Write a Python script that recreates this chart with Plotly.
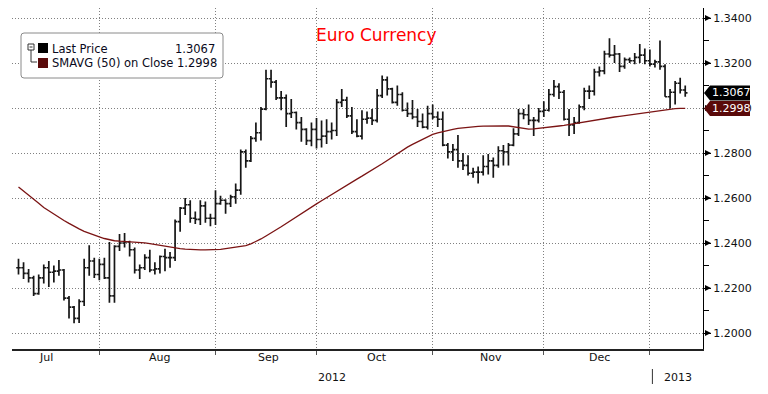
import plotly.graph_objects as go
import pandas as pd

# ---------------- data ----------------
dates = pd.bdate_range("2012-07-09", "2013-01-09")  # daily (weekday) bars

open_ = [1.2290,1.2290,1.2265,1.2245,1.2175,1.2245,1.2290,1.2270,1.2275,1.2280,
         1.2155,1.2115,1.2065,1.2140,1.2290,1.2320,1.2260,1.2305,1.2245,1.2165,
         1.2385,1.2400,1.2405,1.2370,1.2280,1.2290,1.2335,1.2280,1.2285,1.2340,
         1.2335,1.2335,1.2495,1.2555,1.2570,1.2510,1.2505,1.2565,1.2510,1.2510,
         1.2575,1.2590,1.2575,1.2605,1.2635,1.2805,1.2765,1.2865,1.2890,1.2995,
         1.3130,1.3115,1.3045,1.3045,1.2975,1.2980,1.2935,1.2905,1.2855,1.2905,
         1.2860,1.2875,1.2895,1.2900,1.3025,1.3035,1.2965,1.2895,1.2875,1.2950,
         1.2955,1.2945,1.3055,1.3125,1.3085,1.3025,1.3060,1.2990,1.2975,1.2960,
         1.2940,1.2915,1.2975,1.2960,1.2950,1.2835,1.2805,1.2815,1.2765,1.2745,
         1.2710,1.2715,1.2715,1.2740,1.2765,1.2745,1.2810,1.2805,1.2835,1.2885,
         1.2975,1.2970,1.2945,1.2945,1.2985,1.2990,1.3060,1.3095,1.3070,1.2950,
         1.2925,1.2935,1.3005,1.3075,1.3075,1.3160,1.3165,1.3240,1.3235,1.3240,
         1.3185,1.3215,1.3210,1.3225,1.3235,1.3210,1.3195,1.3205,1.3185,1.3050,
         1.3070,1.3110,1.3080]
high = [1.2330,1.2315,1.2285,1.2255,1.2260,1.2305,1.2320,1.2300,1.2325,1.2285,
        1.2165,1.2120,1.2150,1.2330,1.2390,1.2335,1.2330,1.2335,1.2405,1.2390,
        1.2440,1.2445,1.2410,1.2380,1.2305,1.2350,1.2370,1.2315,1.2345,1.2375,
        1.2360,1.2505,1.2560,1.2600,1.2590,1.2540,1.2590,1.2585,1.2530,1.2635,
        1.2610,1.2595,1.2615,1.2665,1.2815,1.2815,1.2875,1.2935,1.3005,1.3170,
        1.3170,1.3125,1.3075,1.3060,1.3040,1.2985,1.2960,1.2910,1.2935,1.2955,
        1.2945,1.2950,1.2935,1.3040,1.3085,1.3050,1.3005,1.2950,1.2990,1.2985,
        1.2995,1.3085,1.3145,1.3140,1.3090,1.3100,1.3070,1.3025,1.3035,1.2995,
        1.2975,1.3010,1.3015,1.2985,1.2985,1.2845,1.2840,1.2880,1.2800,1.2790,
        1.2735,1.2740,1.2790,1.2795,1.2780,1.2830,1.2835,1.2845,1.2910,1.2995,
        1.2995,1.3015,1.2960,1.3000,1.3030,1.3085,1.3125,1.3110,1.3080,1.2995,
        1.2960,1.3015,1.3090,1.3100,1.3175,1.3185,1.3255,1.3310,1.3280,1.3245,
        1.3225,1.3225,1.3245,1.3285,1.3265,1.3260,1.3215,1.3300,1.3195,1.3085,
        1.3120,1.3135,1.3100]
low = [1.2260,1.2240,1.2225,1.2165,1.2170,1.2220,1.2205,1.2225,1.2255,1.2145,
       1.2065,1.2043,1.2045,1.2120,1.2255,1.2245,1.2235,1.2240,1.2135,1.2135,
       1.2365,1.2380,1.2340,1.2265,1.2240,1.2280,1.2270,1.2260,1.2265,1.2275,
       1.2290,1.2320,1.2450,1.2525,1.2490,1.2485,1.2480,1.2490,1.2475,1.2480,
       1.2570,1.2530,1.2560,1.2575,1.2615,1.2735,1.2760,1.2850,1.2855,1.2990,
       1.3090,1.3035,1.2990,1.2915,1.2955,1.2905,1.2850,1.2835,1.2830,1.2820,
       1.2825,1.2840,1.2860,1.2875,1.3005,1.2955,1.2885,1.2870,1.2860,1.2930,
       1.2925,1.2935,1.3045,1.3055,1.3020,1.3010,1.2985,1.2960,1.2950,1.2915,
       1.2910,1.2905,1.2950,1.2915,1.2830,1.2775,1.2765,1.2735,1.2725,1.2700,
       1.2690,1.2665,1.2700,1.2705,1.2690,1.2735,1.2745,1.2745,1.2830,1.2875,
       1.2950,1.2925,1.2875,1.2935,1.2960,1.2985,1.3050,1.3040,1.2945,1.2875,
       1.2885,1.2930,1.2990,1.3040,1.3055,1.3140,1.3150,1.3225,1.3200,1.3160,
       1.3175,1.3200,1.3195,1.3200,1.3195,1.3185,1.3180,1.3170,1.3050,1.2998,
       1.3015,1.3065,1.3050]
close = [1.2290,1.2265,1.2245,1.2175,1.2245,1.2290,1.2270,1.2275,1.2280,1.2155,
         1.2115,1.2065,1.2140,1.2290,1.2320,1.2260,1.2305,1.2245,1.2165,1.2385,
         1.2400,1.2405,1.2370,1.2280,1.2290,1.2335,1.2280,1.2285,1.2340,1.2335,
         1.2335,1.2495,1.2555,1.2570,1.2510,1.2505,1.2565,1.2510,1.2510,1.2575,
         1.2590,1.2575,1.2605,1.2635,1.2805,1.2765,1.2865,1.2890,1.2995,1.3130,
         1.3115,1.3045,1.3045,1.2975,1.2980,1.2935,1.2905,1.2855,1.2905,1.2860,
         1.2875,1.2895,1.2900,1.3025,1.3035,1.2965,1.2895,1.2875,1.2950,1.2955,
         1.2945,1.3055,1.3125,1.3085,1.3025,1.3060,1.2990,1.2975,1.2960,1.2940,
         1.2915,1.2975,1.2960,1.2950,1.2835,1.2805,1.2815,1.2765,1.2745,1.2710,
         1.2715,1.2715,1.2740,1.2765,1.2745,1.2810,1.2805,1.2835,1.2885,1.2975,
         1.2970,1.2945,1.2945,1.2985,1.2990,1.3060,1.3095,1.3070,1.2950,1.2925,
         1.2935,1.3005,1.3075,1.3075,1.3160,1.3165,1.3240,1.3235,1.3240,1.3185,
         1.3215,1.3210,1.3225,1.3235,1.3210,1.3195,1.3205,1.3185,1.3050,1.3070,
         1.3110,1.3080,1.3067]
sma50 = [1.2649,1.2632,1.2614,1.2596,1.2577,1.2558,1.2543,1.2528,1.2515,1.2500,
         1.2487,1.2474,1.2463,1.2452,1.2443,1.2435,1.2427,1.2420,1.2414,1.2410,
         1.2408,1.2407,1.2406,1.2405,1.2404,1.2401,1.2397,1.2393,1.2389,1.2385,
         1.2381,1.2378,1.2375,1.2373,1.2371,1.2370,1.2369,1.2369,1.2369,1.2370,
         1.2372,1.2375,1.2378,1.2381,1.2384,1.2388,1.2396,1.2406,1.2418,1.2431,
         1.2444,1.2458,1.2472,1.2487,1.2502,1.2517,1.2532,1.2546,1.2560,1.2574,
         1.2588,1.2602,1.2616,1.2631,1.2645,1.2658,1.2671,1.2684,1.2697,1.2710,
         1.2723,1.2737,1.2752,1.2767,1.2782,1.2797,1.2812,1.2826,1.2838,1.2850,
         1.2862,1.2873,1.2883,1.2889,1.2895,1.2900,1.2905,1.2909,1.2912,1.2915,
         1.2917,1.2918,1.2919,1.2920,1.2921,1.2921,1.2921,1.2920,1.2916,1.2911,
         1.2907,1.2906,1.2907,1.2909,1.2912,1.2915,1.2918,1.2920,1.2923,1.2927,
         1.2931,1.2935,1.2939,1.2943,1.2946,1.2950,1.2954,1.2957,1.2960,1.2963,
         1.2966,1.2969,1.2973,1.2977,1.2981,1.2984,1.2987,1.2990,1.2993,1.2995,
         1.2997,1.2998,1.2998]

month_labels = ["Jul", "Aug", "Sep", "Oct", "Nov", "Dec"]
year_labels = ["2012", "2013"]
price_ticks = [1.20, 1.22, 1.24, 1.26, 1.28, 1.30, 1.32, 1.34]
minor_ticks = [1.21, 1.23, 1.25, 1.27, 1.29, 1.31, 1.33]
title_text = "Euro Currency"
legend_names = ["Last Price", "SMAVG (50) on Close"]

assert len(dates) == len(open_) == len(high) == len(low) == len(close) == len(sma50)

# ---------------- layout geometry ----------------
W, H = 768, 394
ML, MR, MT, MB = 12, 65, 8, 45
PW, PH = W - ML - MR, H - MT - MB
FONT = "DejaVu Sans"
BAR = "#161616"
SMA_C = "#7b1414"
GRID = "#808080"
GRID_DASH = "1px,2px"

def px(x):  # pixel -> paper x
    return (x - ML) / PW

def py(y):  # pixel -> paper y
    return (H - MB - y) / PH

idx = list(range(len(dates)))
s = pd.Series(idx, index=dates)
s12 = s[s.index.year == 2012]
grid_x = list(s12.groupby(s12.index.month).max().values)  # last bar of each month
cal = pd.bdate_range("2012-07-02", "2012-12-31")
off = list(cal).index(dates[0])
cal_pos = pd.Series(range(-off, len(cal) - off), index=cal)
month_centres = list(cal_pos.groupby(cal_pos.index.month).mean().values)

x_lo = -6.5 / 5.051
x_hi = x_lo + PW / 5.051
year_break = grid_x[-1] + 0.5

fig = go.Figure()
fig.add_trace(go.Ohlc(
    x=idx, open=open_, high=high, low=low, close=close,
    increasing=dict(line=dict(color=BAR, width=1.7)),
    decreasing=dict(line=dict(color=BAR, width=1.7)),
    tickwidth=0.45, hoverinfo="skip", showlegend=False))
fig.add_trace(go.Scatter(
    x=idx, y=sma50, mode="lines", line=dict(color=SMA_C, width=1.3),
    hoverinfo="skip", showlegend=False))

shapes = []
annotations = []

# major tick arrows on the right axis
for v in price_ticks:
    shapes.append(dict(type="path", xref="paper", yref="y", xsizemode="pixel",
                       ysizemode="pixel", xanchor=1, yanchor=v,
                       path="M2,3 L8,0 L2,-3 Z", fillcolor="#000",
                       line=dict(width=0)))

# value tags on the right axis
for val, col in [(close[-1], "#000000"), (sma50[-1], "#5a0a0a")]:
    shapes.append(dict(type="path", xref="paper", yref="y", xsizemode="pixel",
                       ysizemode="pixel", xanchor=1, yanchor=val,
                       path="M1,0 L7,7.5 L47,7.5 L47,-7.5 L7,-7.5 Z",
                       fillcolor=col, line=dict(width=0), layer="above"))
    annotations.append(dict(xref="paper", yref="y", x=1, y=val, xanchor="left",
                            yanchor="middle", xshift=7, showarrow=False,
                            text=f"{val:.4f}",
                            font=dict(family=FONT, size=11, color="#ffffff")))

# legend box
def rrect(x0, y0, x1, y1, r):
    return (f"M{px(x0 + r)},{py(y0)} L{px(x1 - r)},{py(y0)} "
            f"Q{px(x1)},{py(y0)} {px(x1)},{py(y0 + r)} "
            f"L{px(x1)},{py(y1 - r)} Q{px(x1)},{py(y1)} {px(x1 - r)},{py(y1)} "
            f"L{px(x0 + r)},{py(y1)} Q{px(x0)},{py(y1)} {px(x0)},{py(y1 - r)} "
            f"L{px(x0)},{py(y0 + r)} Q{px(x0)},{py(y0)} {px(x0 + r)},{py(y0)} Z")

shapes.append(dict(type="path", xref="paper", yref="paper",
                   path=rrect(21, 33, 223, 78, 3), fillcolor="#ffffff",
                   line=dict(color="#8a8a8a", width=1), layer="above"))
# tree icon
shapes.append(dict(type="rect", xref="paper", yref="paper", x0=px(28), x1=px(34),
                   y0=py(50), y1=py(44), line=dict(color="#333", width=1),
                   fillcolor="#fff", layer="above"))
shapes.append(dict(type="line", xref="paper", yref="paper", x0=px(29.5), x1=px(32.5),
                   y0=py(47), y1=py(47), line=dict(color="#333", width=1), layer="above"))
shapes.append(dict(type="path", xref="paper", yref="paper",
                   path=f"M{px(31)},{py(50)} L{px(31)},{py(62)} L{px(37)},{py(62)}",
                   line=dict(color="#333", width=1), layer="above"))
for (y0, y1), col in [((43, 53), "#000000"), ((58, 68), "#5a0a0a")]:
    shapes.append(dict(type="rect", xref="paper", yref="paper", x0=px(38), x1=px(48),
                       y0=py(y1), y1=py(y0), fillcolor=col, line=dict(width=0),
                       layer="above"))
LEG_FONT = dict(family=FONT, size=11.5, color="#0a0a20")
annotations.append(dict(xref="paper", yref="paper", x=px(50), y=py(48.5),
                        xanchor="left", yanchor="middle", showarrow=False,
                        text=legend_names[0], font=LEG_FONT))
annotations.append(dict(xref="paper", yref="paper", x=px(217), y=py(48.5),
                        xanchor="right", yanchor="middle", showarrow=False,
                        text=f"{close[-1]:.4f}", font=LEG_FONT))
annotations.append(dict(xref="paper", yref="paper", x=px(50), y=py(63),
                        xanchor="left", yanchor="middle", showarrow=False,
                        text=f"{legend_names[1]} {sma50[-1]:.4f}", font=LEG_FONT))

# title
annotations.append(dict(xref="paper", yref="paper", x=px(376), y=py(35),
                        xanchor="center", yanchor="middle", showarrow=False,
                        text=title_text, font=dict(family=FONT, size=17, color="#ff0000")))

# month labels
for lab, c in zip(month_labels, month_centres):
    annotations.append(dict(xref="x", yref="paper", x=c, y=py(357), xanchor="center",
                            yanchor="middle", showarrow=False, text=lab,
                            font=dict(family=FONT, size=11, color="#111")))
# year labels
year_centres = [(x_lo + year_break) / 2, (year_break + x_hi) / 2]
for lab, c in zip(year_labels, year_centres):
    annotations.append(dict(xref="x", yref="paper", x=c, y=py(377), xanchor="center",
                            yanchor="middle", showarrow=False, text=lab,
                            font=dict(family=FONT, size=11, color="#111")))
shapes.append(dict(type="line", xref="x", yref="paper", x0=year_break, x1=year_break,
                   y0=py(369), y1=py(384), line=dict(color="#333", width=1)))

fig.update_layout(
    width=W, height=H, margin=dict(l=ML, r=MR, t=MT, b=MB),
    paper_bgcolor="#ffffff", plot_bgcolor="#ffffff",
    showlegend=False, shapes=shapes, annotations=annotations,
    xaxis=dict(range=[x_lo, x_hi], tickvals=grid_x, showticklabels=False,
               showgrid=True, gridcolor=GRID, griddash=GRID_DASH, gridwidth=1,
               showline=True, linecolor="#222", linewidth=2, ticks="outside",
               ticklen=4, tickcolor="#555", zeroline=False,
               rangeslider=dict(visible=False), fixedrange=True),
    yaxis=dict(side="right", range=[1.20 - 16 / 2250, 1.20 + 325 / 2250],
               tickvals=price_ticks, ticktext=[f"{v:.4f}" for v in price_ticks],
               showgrid=True, gridcolor=GRID, griddash=GRID_DASH, gridwidth=1,
               showline=True, linecolor="#000", linewidth=1, ticks="outside",
               ticklen=7, tickcolor="#000", zeroline=False,
               tickfont=dict(family=FONT, size=11, color="#111"),
               minor=dict(tickvals=minor_ticks, ticks="outside", ticklen=5,
                          tickcolor="#000", showgrid=False),
               fixedrange=True),
)

fig.write_html(
    "out.html",
    config={"displayModeBar": False},
    post_script=("document.body.style.margin='0';"
                 "document.body.style.overflow='hidden';"
                 "document.documentElement.style.overflow='hidden';"),
)
